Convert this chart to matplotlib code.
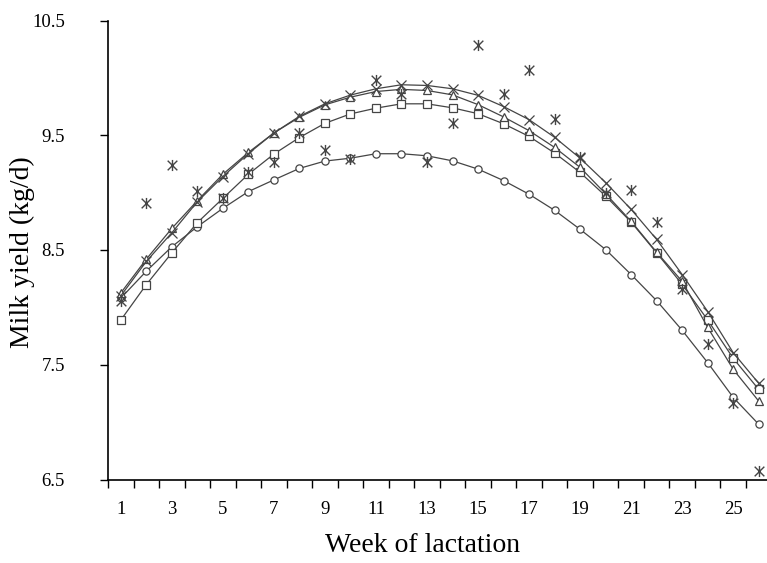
import matplotlib
matplotlib.use("Agg")
import matplotlib.pyplot as plt
from matplotlib.path import Path
import numpy as np

weeks = list(range(1, 27))

# Fitted curves
circle_vals = [8.08, 8.315, 8.528, 8.703, 8.863, 9.009, 9.111, 9.211, 9.275, 9.30,
               9.339, 9.339, 9.321, 9.277, 9.205, 9.105, 8.986, 8.846, 8.68, 8.504,
               8.286, 8.058, 7.80, 7.518, 7.215, 6.981]
square_vals = [7.889, 8.198, 8.475, 8.738, 8.95, 9.16, 9.336, 9.48, 9.604, 9.686,
               9.736, 9.774, 9.774, 9.739, 9.688, 9.600, 9.49, 9.345, 9.176, 8.97,
               8.743, 8.475, 8.20, 7.89, 7.556, 7.285]
triangle_vals = [8.125, 8.42, 8.688, 8.93, 9.16, 9.35, 9.52, 9.657, 9.765, 9.832,
                 9.881, 9.90, 9.89, 9.852, 9.767, 9.66, 9.54, 9.394, 9.22, 8.99,
                 8.75, 8.48, 8.227, 7.825, 7.46, 7.183]
cross_vals = [8.10, 8.40, 8.65, 8.92, 9.14, 9.34, 9.52, 9.665, 9.774, 9.85,
              9.905, 9.94, 9.934, 9.905, 9.848, 9.75, 9.636, 9.482, 9.30, 9.088,
              8.854, 8.592, 8.286, 7.964, 7.605, 7.338]
# Observed data
observed_vals = [8.055, 8.907, 9.24, 9.015, 8.957, 9.176, 9.263, 9.517, 9.374, 9.292,
                 9.978, 9.861, 9.263, 9.607, 10.29, 9.861, 10.07, 9.642, 9.307, 9.0,
                 9.024, 8.747, 8.16, 7.68, 7.163, 6.573]

x_ticklabels = [str(w) if w % 2 == 1 else "" for w in weeks]
y_ticks = [6.5, 7.5, 8.5, 9.5, 10.5]

plt.rcParams['font.family'] = ['Liberation Serif', 'DejaVu Serif']

fig = plt.figure(figsize=(7.67, 5.63), dpi=100)
ax = fig.add_axes([108/767, 1 - 479.5/563, (771.5 - 108)/767, (479.5 - 20.5)/563])

col = '#454545'
star = Path([(-1, -1), (1, 1), (-1, 1), (1, -1), (0, -1.15), (0, 1.15)],
            [Path.MOVETO, Path.LINETO, Path.MOVETO, Path.LINETO, Path.MOVETO, Path.LINETO])

common = dict(color=col, lw=0.9, mfc='white', mec=col, mew=0.9)
ax.plot(weeks, circle_vals, marker='o', ms=5.2, **common)
ax.plot(weeks, square_vals, marker='s', ms=5.5, **common)
ax.plot(weeks, triangle_vals, marker='^', ms=6, **common)
ax.plot(weeks, cross_vals, marker='x', ms=6.5, **common)
ax.plot(weeks, observed_vals, ls='none', marker=star, ms=8, mec=col, mew=1.0, color=col)

ax.set_xlim(0.5, 26.5)
ax.set_ylim(6.5, 10.5)
ax.set_yticks(y_ticks)
ax.set_yticklabels([f"{v:.1f}" for v in y_ticks])
ax.set_xticks(weeks)
ax.set_xticklabels(x_ticklabels)
ax.set_xticks(np.arange(0.5, 27, 1.0), minor=True)
ax.tick_params(axis='x', which='major', length=0, pad=15.5, labelsize=13.5)
ax.tick_params(axis='x', which='minor', length=6, direction='out', width=1)
ax.tick_params(axis='y', which='major', length=6, direction='out', width=1, pad=25, labelsize=13.5)

for s in ['top', 'right']:
    ax.spines[s].set_visible(False)
for s in ['left', 'bottom']:
    ax.spines[s].set_linewidth(1.2)
    ax.spines[s].set_color('black')

fig.text(423/767, 1 - 545/563, 'Week of lactation', fontsize=20, ha='center', va='center')
fig.text(22/767, 1 - 252/563, 'Milk yield (kg/d)', fontsize=20, ha='center', va='center',
         rotation=90)

fig.savefig('out.png', dpi=100)
